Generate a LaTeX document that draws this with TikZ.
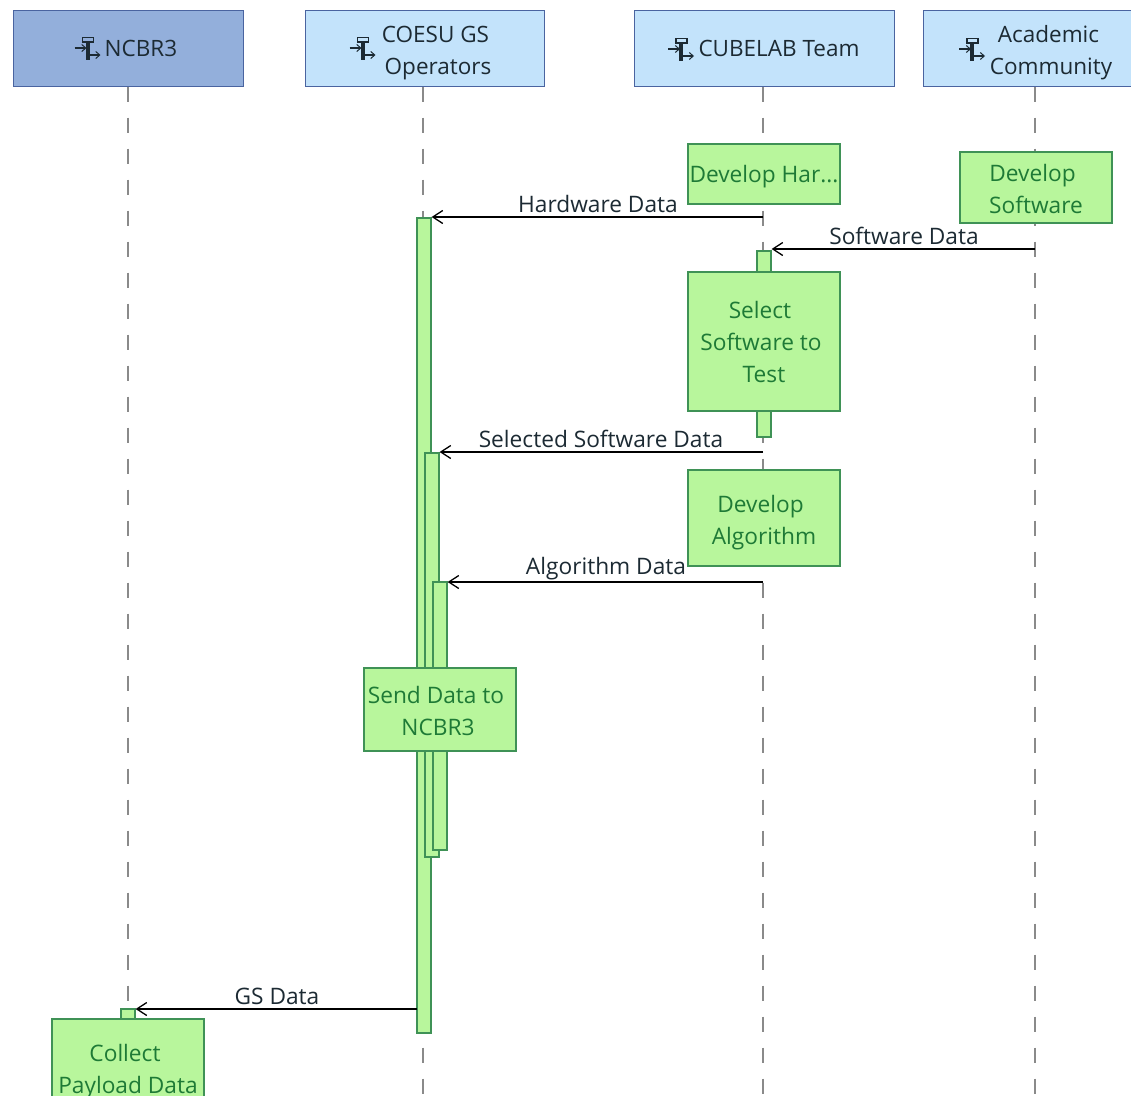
\documentclass[tikz,border=0pt]{standalone}
\usepackage{fontspec}
\setmainfont{Open Sans}
\usetikzlibrary{arrows.meta}
\definecolor{headfill}{HTML}{C3E3FB}
\definecolor{headdark}{HTML}{93AFDB}
\definecolor{headline}{HTML}{4A64A0}
\definecolor{greenfill}{HTML}{B8F69C}
\definecolor{greenline}{HTML}{3F9256}
\definecolor{greentext}{HTML}{1E7A36}
\definecolor{inktext}{HTML}{1C2A33}
\definecolor{lifegrey}{HTML}{8A8A8A}
% text position helpers: push the text of a box down by #1 pt
\newcommand{\topstrut}[1]{\rule{0pt}{\dimexpr 19pt+2\dimexpr #1pt\relax\relax}}
\newcommand{\botstrut}{\rule[-7pt]{0pt}{7pt}}
\tikzset{
  x=1pt,y=-1pt,
  headbox/.style={draw=headline,fill=headfill,line width=1pt,inner sep=0pt,align=center,minimum height=76pt,text=inktext,font=\fontsize{22.5}{32}\selectfont},
  lifeline/.style={draw=lifegrey,line width=1.1pt,dash pattern=on 15pt off 16pt},
  actbar/.style={draw=greenline,fill=greenfill,line width=1.2pt,inner sep=0pt,minimum width=14pt},
  taskbox/.style={draw=greenline,fill=greenfill,line width=1.2pt,inner sep=0pt,align=center,minimum width=152pt,text=greentext,font=\fontsize{22.7}{32}\selectfont},
  msg/.style={draw=black,line width=1.4pt,-{Straight Barb[length=10pt,width=13pt,line width=1.3pt]}},
  msglabel/.style={inner sep=0pt,text=inktext,font=\fontsize{22.7}{26}\selectfont},
  actoricon/.pic={
    \draw[inktext,line width=1.5pt] (-5,-11.5) rectangle (6,-7);
    \fill[inktext] (-2,-7) rectangle (2,11);
    \draw[inktext,line width=1.1pt,-{Straight Barb[length=4pt,width=7pt,line width=1pt]}] (-13,-1) -- (-1,-1);
    \draw[inktext,line width=1.1pt,-{Straight Barb[length=4pt,width=7pt,line width=1pt]}] (1,6) -- (13,6);
  }
}
\begin{document}
\begin{tikzpicture}
\useasboundingbox (0,0) rectangle (1131,1095);
\clip (0,0) rectangle (1131,1095);
% headers
\node[headbox,fill=headdark,minimum width=230pt] (h1) at (128,48) {\topstrut{2}\hspace*{26pt}NCBR3\botstrut};
\node[headbox,minimum width=239pt] (h2) at (424.5,48) {\topstrut{4.2}\hspace*{22pt}COESU GS\\\hspace*{27pt}Operators\botstrut};
\node[headbox,minimum width=260pt] (h3) at (764,48) {\topstrut{2}\hspace*{30pt}CUBELAB Team\botstrut};
\node[headbox,minimum width=224pt] (h4) at (1035,48) {\topstrut{4.2}\hspace*{27pt}Academic\\\hspace*{32pt}Community\botstrut};
\pic at (87.5,49) {actoricon};
\pic at (362.5,49) {actoricon};
\pic at (681,50) {actoricon};
\pic at (972,50) {actoricon};
% lifeline ends
\coordinate (e1) at (128,1095);
\coordinate (e2) at (423,1095);
\coordinate (e3) at (763,1095);
\coordinate (e4) at (1035,1095);
\draw[lifeline] (h1.south) -- (e1);
\draw[lifeline] ([xshift=-1.5pt]h2.south) -- (e2);
\draw[lifeline] ([xshift=-1pt]h3.south) -- (e3);
\draw[lifeline] (h4.south) -- (e4);
% activation bars
\node[actbar,minimum height=815pt] (b1) at (424,625.5) {};
\node[actbar,minimum height=404pt] (b2) at (432,655) {};
\node[actbar,minimum height=268pt] (b3) at (440,716) {};
\node[actbar,minimum height=186pt] (b4) at (764,344) {};
\node[actbar,minimum height=30pt] (b5) at (128,1024) {};
% tasks
\node[taskbox,minimum height=60pt] (t1) at (764,174) {\topstrut{2.3}Develop Har...\botstrut};
\node[taskbox,minimum height=71pt] (t2) at (1036,187.5) {\topstrut{4}\hspace*{-7pt}Develop\\Software\botstrut};
\node[taskbox,minimum height=139pt] (t3) at (764,341.5) {\topstrut{3}\hspace*{-8pt}Select\\\hspace*{-6pt}Software to\\Test\botstrut};
\node[taskbox,minimum height=96pt] (t4) at (764,518) {\topstrut{4}\hspace*{-7pt}Develop\\Algorithm\botstrut};
\node[taskbox,minimum height=83pt] (t5) at (440,709.5) {\topstrut{4}\hspace*{-8pt}Send Data to\\\hspace*{-4pt}NCBR3\botstrut};
\node[taskbox,minimum height=100pt] (t6) at (128,1069) {\topstrut{2}\hspace*{-6pt}Collect\\Payload Data\botstrut};
% message endpoints
\coordinate (m1) at (763,217);
\coordinate (m2) at (1035,249);
\coordinate (m3) at (763,452);
\coordinate (m4) at (763,582);
\coordinate (m5) at (417,1009);
\draw[msg] (m1) -- (m1 -| b1.east);
\draw[msg] (m2) -- (m2 -| b4.east);
\draw[msg] (m3) -- (m3 -| b2.east);
\draw[msg] (m4) -- (m4 -| b3.east);
\draw[msg] (m5) -- (m5 -| b5.east);
% labels
\node[msglabel] (l1) at (598,204) {Hardware Data};
\node[msglabel] (l2) at (904,236) {Software Data};
\node[msglabel] (l3) at (601,439) {Selected Software Data};
\node[msglabel] (l4) at (606,569) {Algorithm Data};
\node[msglabel] (l5) at (277,996) {GS Data};
\end{tikzpicture}
\end{document}
